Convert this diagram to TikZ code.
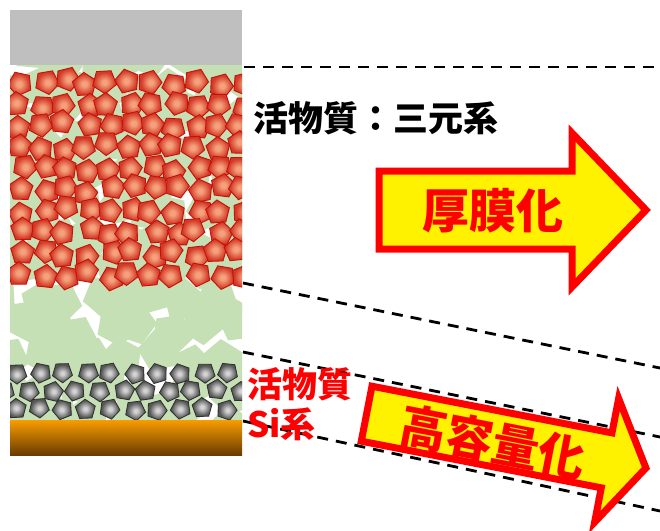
\documentclass[tikz,border=0pt]{standalone}
\usepackage{fontspec}
\setmainfont{Noto Sans CJK JP}
\usetikzlibrary{positioning,shapes.geometric}
\definecolor{collectorgray}{HTML}{BFBFBF}
\definecolor{bindergreen}{HTML}{C5E0B4}
\definecolor{nmcedge}{HTML}{C41208}
\definecolor{nmcred}{HTML}{D43A28}
\definecolor{nmccore}{HTML}{F5A27C}
\definecolor{siedge}{HTML}{2E2E2E}
\definecolor{siouter}{HTML}{555555}
\definecolor{sicore}{HTML}{D4D4D4}
\definecolor{copperlight}{HTML}{F89C00}
\definecolor{copperdark}{HTML}{6A3C00}
\pgfdeclareradialshading{nmcshade}{\pgfpoint{0bp}{0bp}}{color(0bp)=(nmccore); color(5bp)=(nmccore); color(22bp)=(nmcred); color(50bp)=(nmcred)}
\pgfdeclareradialshading{sishade}{\pgfpoint{0bp}{0bp}}{color(0bp)=(sicore); color(4bp)=(sicore); color(22bp)=(siouter); color(50bp)=(siouter)}

\begin{document}
\begin{tikzpicture}[x=1pt, y=-1pt,
        bindergrain/.style={regular polygon, regular polygon sides=5, minimum size=44pt, inner sep=0pt, fill=bindergreen},
        redgrain/.style={regular polygon, regular polygon sides=5, minimum size=25pt, inner sep=0pt, draw=nmcedge, line width=0.9pt, shading=nmcshade},
        sigrain/.style={regular polygon, regular polygon sides=5, minimum size=21pt, inner sep=0pt, draw=siedge, line width=0.8pt, shading=sishade},
        layerline/.style={black, line width=2.8pt, dash pattern=on 11pt off 8pt},
        bigarrow/.style={draw=red, fill=yellow, line width=7pt, line join=miter},
        blacklabel/.style={inner sep=0pt, font=\bfseries\fontsize{35}{35}\selectfont},
        redlabel/.style={inner sep=0pt, text=red, font=\bfseries\fontsize{35}{35}\selectfont},
        arrowlabel/.style={inner sep=0pt, text=red, font=\bfseries\fontsize{47}{47}\selectfont},
]
        \useasboundingbox (0,0) rectangle (660,530);
        \pgfmathsetseed{23}

        % electrode layers
        \begin{scope}
                \clip (10,65) rectangle (242,420);
                \fill[white] (10,65) rectangle (242,420);
                \foreach \row in {0,...,12} {
                        \foreach \col in {0,...,8} {
                                \pgfmathsetmacro\gx{4+31*\col+15*mod(\row,2)+10*rand}
                                \pgfmathsetmacro\gy{58+30*\row+10*rand}
                                \pgfmathsetmacro\turn{72*rnd}
                                \node[bindergrain, rotate=\turn] (binder-\row-\col) at (\gx,\gy) {};
                        }
                }
                \foreach \row in {0,...,9} {
                        \foreach \col in {0,...,10} {
                                \pgfmathsetmacro\gx{21+22*\col+5*rand}
                                \pgfmathsetmacro\gy{83+21.3*\row+4*rand}
                                \pgfmathsetmacro\turn{72*rnd}
                                \node[redgrain, rotate=\turn] (nmc-\row-\col) at (\gx,\gy) {};
                        }
                }
                \foreach \row/\start/\last in {0/17/9, 1/6/10, 2/17/9} {
                        \foreach \col in {0,...,\last} {
                                \pgfmathsetmacro\gx{\start+23.3*\col+2*rand}
                                \pgfmathsetmacro\gy{373+18*\row+1.5*rand}
                                \pgfmathsetmacro\turn{72*rnd}
                                \node[sigrain, rotate=\turn] (si-\row-\col) at (\gx,\gy) {};
                        }
                }
        \end{scope}
        \fill[collectorgray] (10,10) rectangle (242,65);
        \shade[top color=copperlight, middle color=copperlight!75!copperdark, bottom color=copperdark] (10,420) rectangle (242,455);

        % layer boundaries
        \coordinate (filmtop) at (244,67);
        \coordinate (filmtopfar) at (660,67);
        \coordinate (cathodebase) at (243,283);
        \coordinate (cathodebasefar) at (660,368);
        \coordinate (anodetop) at (243,352);
        \coordinate (anodetopfar) at (660,437);
        \coordinate (anodebase) at (243,421);
        \coordinate (anodebasefar) at (660,511);
        \draw[layerline] (filmtop) -- (filmtopfar);
        \draw[layerline] (cathodebase) -- (cathodebasefar);
        \draw[layerline] (anodetop) -- (anodetopfar);
        \draw[layerline] (anodebase) -- (anodebasefar);

        \node[blacklabel, anchor=west] (cathode) at (253,118) {活物質：三元系};
        \node[redlabel, anchor=west] (anodeup) at (247,384) {活物質};
        \node[redlabel, below=7pt of anodeup.south west, anchor=north west] (anodelow) {Si系};

        \draw[bigarrow] (379,171) -- (572,171) -- (572,133) -- (646,210) -- (572,287) -- (572,249) -- (379,249) -- cycle;
        \node[arrowlabel] (thick) at (493,211) {厚膜化};

        \begin{scope}[shift={(363,414)}, rotate=-11, transform shape]
                \draw[bigarrow] (3.5,-29) -- (248,-29) -- (248,-64) -- (288,-1) -- (248,62) -- (248,27) -- (3.5,27) -- cycle;
                \node[arrowlabel] (capacity) at (133,3) {高容量化};
        \end{scope}
\end{tikzpicture}
\end{document}
